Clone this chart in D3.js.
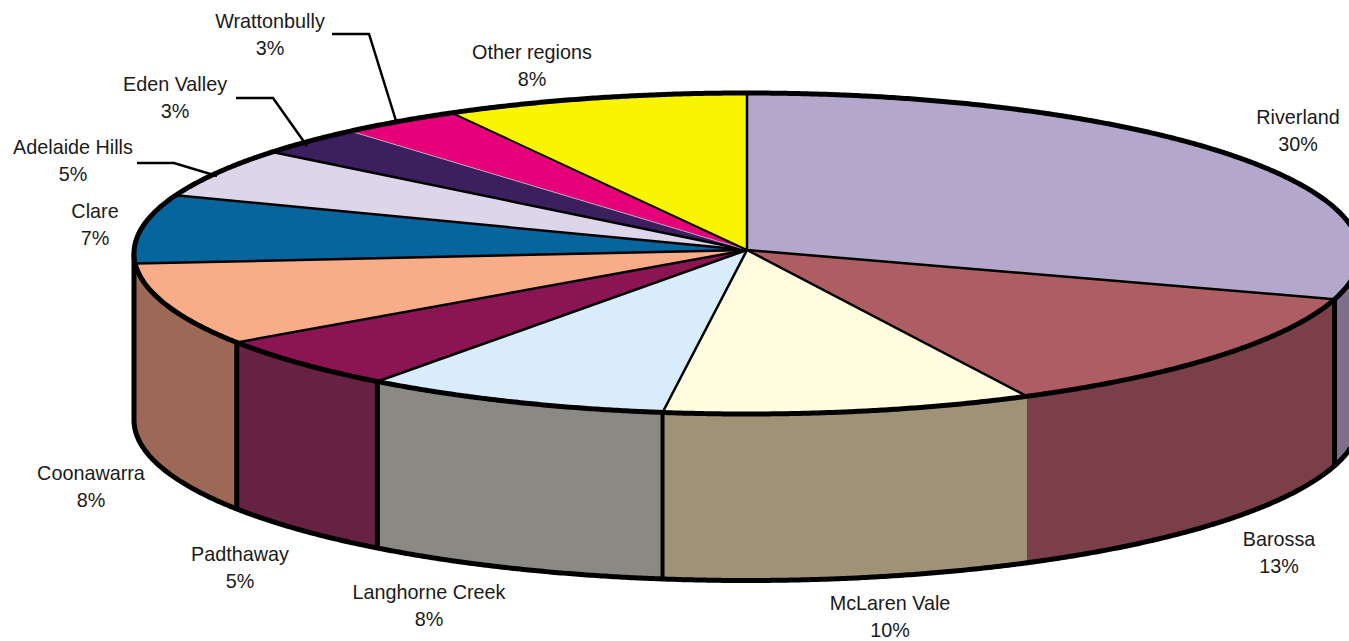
<!DOCTYPE html>
<html>
<head>
<meta charset="utf-8">
<script src="https://cdn.jsdelivr.net/npm/d3@7"></script>
<style>
  html, body { margin: 0; padding: 0; background: #fff; overflow: hidden; }
  svg { display: block; }
  text { font-family: "Liberation Sans", Arial, sans-serif; font-size: 19.8px; fill: #1a1a1a; }
</style>
</head>
<body>
<script>
// regions, clockwise from the top of the pie
var regions = ["Riverland", "Barossa", "McLaren Vale", "Langhorne Creek", "Padthaway", "Coonawarra",
               "Clare", "Adelaide Hills", "Eden Valley", "Wrattonbully", "Other regions"];
// slice sizes, the printed labels are rounded
var shares = [29.6, 12.85, 9.75, 8.1, 5.35, 8.35, 6.9, 5.0, 2.9, 3.2, 8.0];
var shareLabels = ["30%", "13%", "10%", "8%", "5%", "8%", "7%", "5%", "3%", "3%", "8%"];

var topColours = ["#b3a8cc", "#ae5e63", "#fffcdf", "#d9ecfb", "#8a1552", "#f8ac88",
                  "#07659e", "#ddd5ea", "#3b1f5e", "#e6007a", "#f9f400"];
var sideColours = ["#806f8a", "#7a3f48", "#a09276", "#8b8984", "#672243", "#9d6855"];

// label centres, first line
var labelPos = [[1298, 117], [1279, 539], [890, 603], [429, 592], [240, 554], [91, 473],
                [95, 211], [73, 147], [175, 84], [270, 21], [532, 52]];
// leader lines
var leaders = [
  [[137, 163], [174, 163], [217, 176]],
  [[236, 98], [273, 98], [307, 146]],
  [[332, 34], [369, 34], [397, 124]]
];

var w = 1349;
var h = 641;
var cx = 747, cy = 253.5;
var rx = 613, ry = 160.5;
var depth = 166.5;
var apex = [747, 250];

var svg = d3.select("body").append("svg").attr("width", w).attr("height", h);

var xScale = d3.scaleLinear().domain([-1, 1]).range([cx - rx, cx + rx]);
var yScale = d3.scaleLinear().domain([-1, 1]).range([cy + ry, cy - ry]);

function pt(a, drop) {
  return [xScale(Math.sin(a)), yScale(Math.cos(a)) + (drop || 0)];
}

function arcPoints(a0, a1, drop) {
  var pts = d3.range(a0, a1, 0.005).map(function(a) { return pt(a, drop); });
  pts.push(pt(a1, drop));
  return pts;
}

var line = d3.line();

var slices = d3.pie().sort(null).value(function(d) { return d; })(shares);

// side wall, only the front half of the rim shows
slices.forEach(function(s, i) {
  var a0 = Math.max(s.startAngle, Math.PI / 2);
  var a1 = Math.min(s.endAngle, 3 * Math.PI / 2);
  if (a1 <= a0) return;
  var pts = arcPoints(a0, a1, 0).concat(arcPoints(a0, a1, depth).reverse());
  svg.append("path").attr("d", line(pts) + "Z").attr("fill", sideColours[i]);
});

// bottom rim and the left edge
svg.append("path")
  .attr("d", line(arcPoints(Math.PI / 2, 3 * Math.PI / 2, depth)))
  .attr("fill", "none").attr("stroke", "#000").attr("stroke-width", 5);
svg.append("path")
  .attr("d", line([pt(3 * Math.PI / 2, 0), pt(3 * Math.PI / 2, depth)]))
  .attr("fill", "none").attr("stroke", "#000").attr("stroke-width", 5);

// verticals between side walls (none between McLaren Vale and Barossa)
[0, 2, 3, 4].forEach(function(i) {
  var a = slices[i].endAngle;
  svg.append("path")
    .attr("d", line([pt(a, 0), pt(a, depth)]))
    .attr("stroke", "#000").attr("stroke-width", i == 2 ? 4 : 5);
});

// top faces
slices.forEach(function(s, i) {
  var pts = [apex].concat(arcPoints(s.startAngle, s.endAngle, 0));
  svg.append("path").attr("d", line(pts) + "Z").attr("fill", topColours[i]);
});

// spokes
slices.forEach(function(s, i) {
  var thin = regions[i] == "Eden Valley";
  svg.append("path")
    .attr("d", line([apex, pt(s.endAngle, 0)]))
    .attr("stroke", thin ? "#b9a3bd" : "#000")
    .attr("stroke-width", thin ? 1 : (regions[i] == "Wrattonbully" ? 2 : 2.5));
});

// top rim
svg.append("path")
  .attr("d", line(arcPoints(0, 2 * Math.PI, 0)) + "Z")
  .attr("fill", "none").attr("stroke", "#000").attr("stroke-width", 5);

// leaders
leaders.forEach(function(l) {
  svg.append("path").attr("d", line(l)).attr("fill", "none")
    .attr("stroke", "#000").attr("stroke-width", 2.5);
});

// labels
regions.forEach(function(r, i) {
  var g = svg.append("text").attr("text-anchor", "middle");
  g.append("tspan").attr("x", labelPos[i][0]).attr("y", labelPos[i][1] + 7).text(r);
  g.append("tspan").attr("x", labelPos[i][0]).attr("y", labelPos[i][1] + 34).text(shareLabels[i]);
});
</script>
</body>
</html>
